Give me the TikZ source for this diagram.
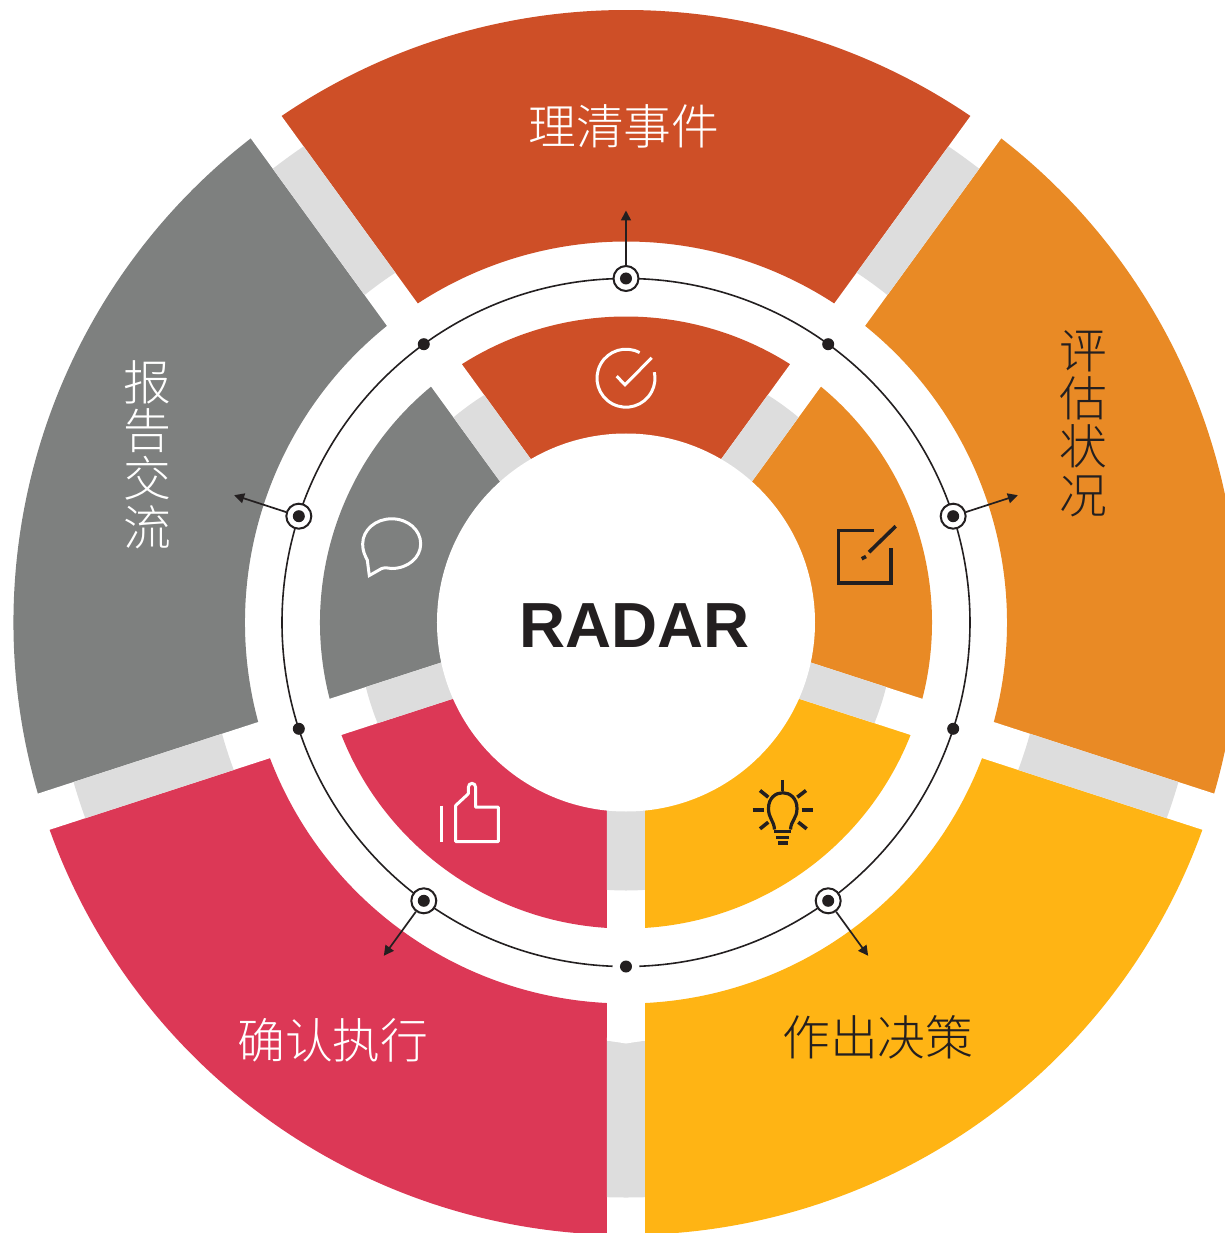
\documentclass[tikz,border=0pt]{standalone}
\usepackage{fontspec}
\setmainfont{Liberation Sans}
\newfontfamily\cjk{Noto Sans CJK SC Light}
\usetikzlibrary{arrows.meta}
\definecolor{cred}{HTML}{CE4F27}
\definecolor{corange}{HTML}{E98A25}
\definecolor{cyellow}{HTML}{FFB414}
\definecolor{ccrimson}{HTML}{DC3856}
\definecolor{cgrey}{HTML}{7E807F}
\definecolor{cbar}{HTML}{DDDDDD}
\definecolor{cink}{HTML}{231F20}
\tikzset{
  ringmark/.style={circle,fill=white,draw=cink,line width=2bp,minimum size=25bp,inner sep=0pt},
  dotmark/.style={circle,fill=cink,minimum size=12bp,inner sep=0pt},
  pointer/.style={draw=cink,line width=1.7bp,-{Triangle[length=10bp,width=10bp]}},
  orbit/.style={draw=cink,line width=1.6bp},
  cjklabel/.style={font=\cjk\fontsize{48}{48.5}\selectfont,align=center,inner sep=0pt},
  whiteicon/.style={draw=white,line width=3bp},
  blackicon/.style={draw=cink,line width=3.6bp},
}
\newcommand{\sectorfill}[5]{% colour, start, end, outer, inner
  \fill[#1] (#2:#4) arc[start angle=#2,end angle=#3,radius=#4] -- (#3:#5) arc[start angle=#3,end angle=#2,radius=#5] -- cycle;}
\newcommand{\spokebar}[1]{%
  \begin{scope}[rotate=#1]
    \fill[white] (0,-19) rectangle (660,19);
    \begin{scope}
      \clip (0,-19) rectangle (660,19);
      \fill[cbar,even odd rule] (0,0) circle[radius=268] (0,0) circle[radius=185];
      \fill[cbar,even odd rule] (0,0) circle[radius=575] (0,0) circle[radius=419];
    \end{scope}
  \end{scope}}
\begin{document}
\begin{tikzpicture}[x=1bp,y=1bp]
\path[use as bounding box] (-626,622.5) rectangle (599,-610.5);
\clip (-626,622.5) rectangle (599,-610.5);
\fill[white] (-626,622.5) rectangle (599,-610.5);
% outer ring
\sectorfill{cred}{54}{126}{612.5}{381}
\sectorfill{corange}{-18}{54}{612.5}{381}
\sectorfill{cyellow}{-90}{-18}{612.5}{381}
\sectorfill{ccrimson}{198}{270}{612.5}{381}
\sectorfill{cgrey}{126}{198}{612.5}{381}
% inner ring
\sectorfill{cred}{54}{126}{306}{185}
\sectorfill{corange}{-18}{54}{306}{185}
\sectorfill{cyellow}{-90}{-18}{306}{185}
\sectorfill{ccrimson}{198}{270}{306}{185}
\sectorfill{cgrey}{126}{198}{306}{185}
% spokes
\spokebar{54}\spokebar{126}\spokebar{198}\spokebar{270}\spokebar{342}
\fill[white] (-19,-418) -- (0,-421) -- (19,-418) -- (19,-415) -- (-19,-415) -- cycle;
% centre
\node[circle,fill=white,minimum size=378bp,inner sep=0pt] (hub) at (0,0) {};
\node[font=\bfseries\fontsize{64}{64}\selectfont,text=cink,inner sep=0pt] (radar) at (8.5,-3) {RADAR};
% orbit
\draw[orbit] (0,0) circle[radius=344];
\fill[white] (270:344) circle[radius=13.5];
% markers
\node[ringmark] (m1) at (90:344) {};
\node[ringmark] (m2) at (18:344) {};
\node[ringmark] (m3) at (-54:344) {};
\node[ringmark] (m4) at (234:344) {};
\node[ringmark] (m5) at (162:344) {};
\foreach \n in {1,...,5} {\node[dotmark] (c\n) at (m\n) {};}
\node[dotmark] (d1) at (54:344) {};
\node[dotmark] (d2) at (-18:344) {};
\node[dotmark] (d3) at (-90:344) {};
\node[dotmark] (d4) at (198:344) {};
\node[dotmark] (d5) at (126:344) {};
\coordinate (t1) at (90:412);
\coordinate (t2) at (18:412);
\coordinate (t3) at (-54:412);
\coordinate (t4) at (234:412);
\coordinate (t5) at (162:412);
\foreach \n in {1,...,5} {\draw[pointer] (m\n) -- (t\n);}
% labels
\node[cjklabel,text=white] (l1) at (-2,496.5) {理清事件};
\node[cjklabel,text=cink] (l2) at (457,199) {评\\估\\状\\况};
\node[cjklabel,text=cink] (l3) at (252,-415) {作出决策};
\node[cjklabel,text=white] (l4) at (-293,-418) {确认执行};
\node[cjklabel,text=white] (l5) at (-479,168) {报\\告\\交\\流};
% check icon
\draw[whiteicon] ([shift={(0,244.3)}]62:29) arc[start angle=62,end angle=372,radius=29];
\draw[whiteicon] (-9.3,246.3) -- (-1,237.7) -- (25.7,264.7);
% bubble icon
\draw[whiteicon,line join=miter] (-244.3,54) .. controls (-240,55.5) and (-238,54) .. (-234.3,54)
  .. controls (-218,54) and (-205.3,65) .. (-205.3,78.7)
  .. controls (-205.3,92.5) and (-218,103.7) .. (-234.3,103.7)
  .. controls (-250.5,103.7) and (-263.3,92.5) .. (-263.3,78.7)
  .. controls (-263.3,71) and (-261,67) .. (-258.7,62.5) -- (-256.7,47) -- cycle;
% thumb icon
\begin{scope}[shift={(-626,622)},y=-1bp]
  \draw[whiteicon] (441.7,805) -- (441.7,841.7);
  \draw[whiteicon,line join=round] (455.7,841) -- (455.7,805) -- (468.3,793.3) -- (468.3,787)
    .. controls (468.3,781.5) and (475.7,781.5) .. (475.7,787) -- (475.7,806.7) -- (498.3,806.7) -- (498.3,841) -- cycle;
  % edit icon
  \draw[blackicon,line join=miter] (874.3,530) -- (838.3,530) -- (838.3,582.3) -- (891,582.3) -- (891,547.3);
  \draw[blackicon] (895.7,525.7) -- (869,551.7);
  \draw[blackicon] (861.7,558.3) -- (866,556);
  % bulb icon
  \foreach \a/\b/\c/\d in {782.7/779.3/782.7/790, 752.7/809.3/764/809.3, 801.7/809.3/813.3/809.3,
      760/790/768.3/796.7, 806/790/797.3/796.7, 760/828.3/768.3/821.7, 806.7/828.3/798.3/821.7}
    {\draw[blackicon,line width=3.6bp] (\a,\b) -- (\c,\d);}
  \draw[blackicon,line width=3.2bp] (774.5,829) .. controls (774,820) and (768.5,818) .. (768.5,808)
    .. controls (768.5,787) and (797,787) .. (797,808)
    .. controls (797,818) and (791,820) .. (790.5,829);
  \draw[blackicon,line width=3bp] (774.3,831.3) -- (791,831.3);
  \draw[blackicon,line width=3bp] (776,836.7) -- (789.3,836.7);
  \draw[blackicon,line width=3.6bp] (778.3,842.3) -- (787.7,842.3);
\end{scope}
\end{tikzpicture}
\end{document}
